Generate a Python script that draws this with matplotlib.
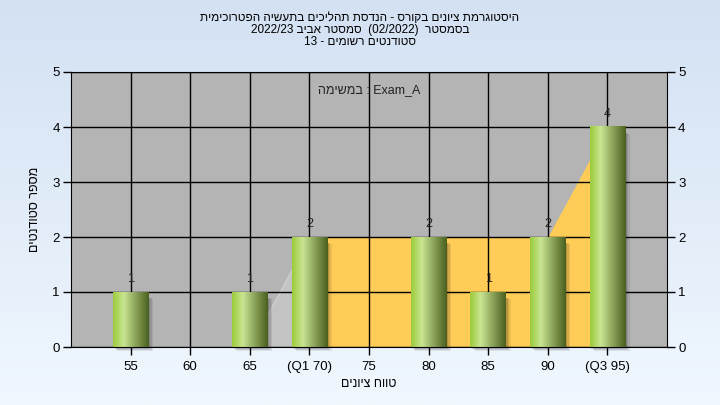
import numpy as np
import matplotlib
matplotlib.use("Agg")
import matplotlib.pyplot as plt
from matplotlib.colors import LinearSegmentedColormap

plt.rcParams['font.family'] = ['Liberation Sans', 'DejaVu Sans']

# data
grades = [55, 60, 65, 70, 75, 80, 85, 90, 95]
counts = [1, 0, 1, 2, 0, 2, 1, 2, 4]
tick_labels = ['55', '60', '65', '(Q1 70)', '75', '80', '85', '90', '(Q3 95)']
# background area series (outside / inside quartiles)
outer_x = [55, 60, 65, 70]
outer_y = [0, 0, 0, 2]
inner_x = [70, 75, 80, 85, 90, 95]
inner_y = [2, 2, 2, 2, 2, 4]

# hebrew strings are written in logical order and flipped for display (LTR renderer)
t1 = "היסטוגרמת ציונים בקורס - הנדסת תהליכים בתעשיה הפטרוכימית"[::-1]
t2 = "2022/23 " + "סמסטר אביב"[::-1] + "  (02/2022)  " + "בסמסטר"[::-1]
t3 = "13 - " + "סטודנטים רשומים"[::-1]
task = "במשימה"[::-1] + " : Exam_A"
xlab = "טווח ציונים"[::-1]
ylab = "מספר סטודנטים"[::-1]

fig = plt.figure(figsize=(7.2, 4.05), dpi=100)

# gradient figure background
bg = fig.add_axes([0, 0, 1, 1], zorder=-10)
bgcm = LinearSegmentedColormap.from_list('bg', ['#d3e1f3', '#f0f7fe'])
bg.imshow(np.linspace(0, 1, 256).reshape(-1, 1), cmap=bgcm, aspect='auto', extent=[0, 1, 0, 1])
bg.axis('off')

ax = fig.add_axes([71/720, 1-347/405, 596/720, 275/405])
ax.set_facecolor('#b4b4b4')

ax.fill_between(outer_x, outer_y, color='#c3c3c3', lw=1, edgecolor='#cfcfcf', zorder=1)
ax.fill_between(inner_x, inner_y, color='#ffcc57', lw=0, zorder=1)

barcm = LinearSegmentedColormap.from_list('bar', [(0, '#9bcb3a'), (0.3, '#c9e592'),
                                                   (0.62, '#8ea65c'), (1, '#4a5f1e')])
grad = np.linspace(0, 1, 128).reshape(1, -1)
w = 3.0
for g, c in zip(grades, counts):
    if c == 0:
        continue
    # soft shadow
    for k, a in enumerate([0.12, 0.10, 0.08]):
        off = 0.15 + 0.12 * k
        ax.add_patch(plt.Rectangle((g - w/2 + off, -0.04 - 0.015*k), w, c - 0.06, color='black',
                                   alpha=a, lw=0, zorder=2, clip_on=False))
    ax.imshow(grad, cmap=barcm, aspect='auto', extent=[g - w/2, g + w/2, 0, c], zorder=3)
    ax.text(g, c + 0.13, str(c), ha='center', va='bottom', fontsize=9, color='#222222', zorder=5)

ax.set_xlim(50, 100)
ax.set_ylim(0, 5)
ax.set_xticks(grades)
ax.set_xticklabels(tick_labels)
ax.set_yticks(range(6))
ax.grid(True, color='black', lw=1)
ax.set_axisbelow(False)
for gl in ax.get_xgridlines() + ax.get_ygridlines():
    gl.set_zorder(1.5)
ax.tick_params(axis='both', direction='out', length=6, width=1, labelsize=9.5, colors='black')
ax.tick_params(axis='y', right=True, labelright=True, pad=2)
ax.tick_params(axis='x', pad=4)
for s in ax.spines.values():
    s.set_color('black')
    s.set_zorder(6)

ax.set_xlabel(xlab, fontsize=9, labelpad=4)
ax.set_ylabel(ylab, fontsize=9, labelpad=8)

ax.text(0.5, 0.955, task, transform=ax.transAxes, ha='center', va='top', fontsize=9, color='#222222')

fig.text(0.5, 0.970, t1, ha='center', va='top', fontsize=8.5)
fig.text(0.5, 0.940, t2, ha='center', va='top', fontsize=8.5)
fig.text(0.5, 0.910, t3, ha='center', va='top', fontsize=8.5)

fig.savefig('out.png', dpi=100)
